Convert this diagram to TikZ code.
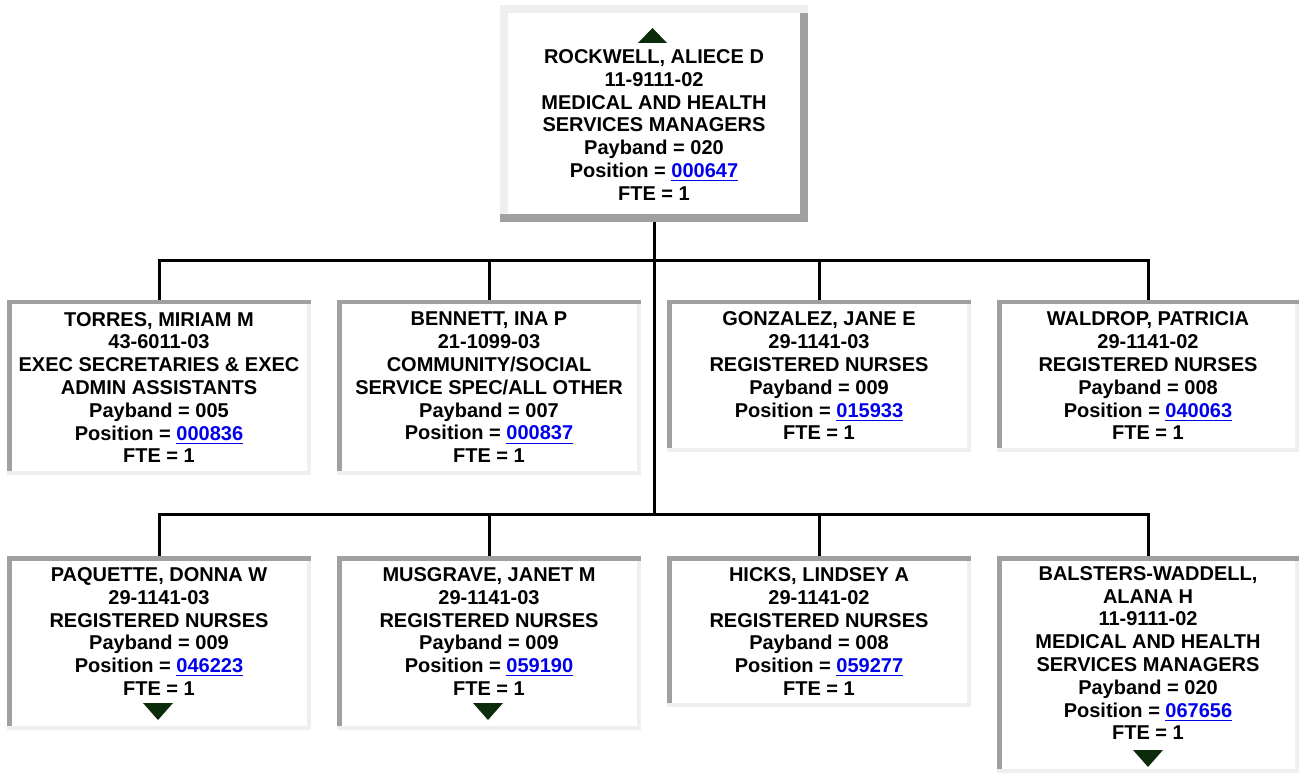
\documentclass[tikz,border=0pt]{standalone}
\usepackage{fontspec}
\setmainfont{Liberation Sans}
\usetikzlibrary{calc}

\definecolor{edgelight}{HTML}{EFEFEF}
\definecolor{edgedark}{HTML}{A0A0A0}
\definecolor{arrowgreen}{HTML}{0B2B0B}
\definecolor{linkblue}{HTML}{0000EE}
\newcommand{\posnr}[1]{\textcolor{linkblue}{\underline{#1}}}

\tikzset{
	emp/.style={fill=white, inner sep=0pt, align=center, font=\fontsize{10}{11.4}\selectfont\bfseries},
	raised/.style={emp, minimum width=154pt, path picture={
		\fill[edgelight] (path picture bounding box.north west) rectangle ([yshift=-4pt]path picture bounding box.north east);
		\fill[edgelight] (path picture bounding box.north west) rectangle ([xshift=4pt]path picture bounding box.south west);
		\fill[edgedark] ([yshift=4pt]path picture bounding box.south west) rectangle (path picture bounding box.south east);
		\fill[edgedark] ([xshift=-4pt,yshift=-4pt]path picture bounding box.north east) rectangle (path picture bounding box.south east);
	}},
	sunken/.style={emp, minimum width=152pt, path picture={
		\fill[edgedark] (path picture bounding box.north west) rectangle ([yshift=-2.25pt]path picture bounding box.north east);
		\fill[edgedark] (path picture bounding box.north west) rectangle ([xshift=2.25pt]path picture bounding box.south west);
		\fill[edgelight] ([yshift=2.25pt]path picture bounding box.south west) rectangle (path picture bounding box.south east);
		\fill[edgelight] ([xshift=-2.25pt,yshift=-2.25pt]path picture bounding box.north east) rectangle ([yshift=2.25pt]path picture bounding box.south east);
	}},
	wire/.style={line width=1.5pt},
	tri/.style={fill=arrowgreen},
}

\begin{document}
\begin{tikzpicture}[x=0.5pt, y=-0.5pt]
	\useasboundingbox (0,0) rectangle (1299,774);

	\node[raised, minimum height=108.5pt] (rockwell) at (654,113.5){\rule{0pt}{7pt}\\ROCKWELL, ALIECE D\\11-9111-02\\MEDICAL AND HEALTH\\SERVICES MANAGERS\\Payband = 020\\Position = \posnr{000647}\\FTE = 1};

	% first row
	\node[sunken, minimum height=87.5pt] (torres) at (159,387.5){TORRES, MIRIAM M\\43-6011-03\\EXEC SECRETARIES \& EXEC\\ADMIN ASSISTANTS\\Payband = 005\\Position = \posnr{000836}\\FTE = 1};
	\node[sunken, minimum height=87.5pt] (bennett) at (489,387.5){BENNETT, INA P\\21-1099-03\\COMMUNITY/SOCIAL\\SERVICE SPEC/ALL OTHER\\Payband = 007\\Position = \posnr{000837}\\FTE = 1};
	\node[sunken, minimum height=76pt] (gonzalez) at (819,376){GONZALEZ, JANE E\\29-1141-03\\REGISTERED NURSES\\Payband = 009\\Position = \posnr{015933}\\FTE = 1};
	\node[sunken, minimum height=76pt, minimum width=151pt] (waldrop) at (1148,376){WALDROP, PATRICIA\\29-1141-02\\REGISTERED NURSES\\Payband = 008\\Position = \posnr{040063}\\FTE = 1};

	% second row
	\node[sunken, minimum height=87pt] (paquette) at (159,643){PAQUETTE, DONNA W\\29-1141-03\\REGISTERED NURSES\\Payband = 009\\Position = \posnr{046223}\\FTE = 1\\\rule{0pt}{0pt}};
	\node[sunken, minimum height=87pt] (musgrave) at (489,643){MUSGRAVE, JANET M\\29-1141-03\\REGISTERED NURSES\\Payband = 009\\Position = \posnr{059190}\\FTE = 1\\\rule{0pt}{0pt}};
	\node[sunken, minimum height=75.5pt] (hicks) at (819,631.5){HICKS, LINDSEY A\\29-1141-02\\REGISTERED NURSES\\Payband = 008\\Position = \posnr{059277}\\FTE = 1};
	\node[sunken, minimum height=108.5pt, minimum width=151pt] (balsters) at (1148,664.5){BALSTERS-WADDELL,\\ALANA H\\11-9111-02\\MEDICAL AND HEALTH\\SERVICES MANAGERS\\Payband = 020\\Position = \posnr{067656}\\FTE = 1\\\rule{0pt}{0pt}};

	\coordinate (bus1) at (654,261);
	\coordinate (bus2) at (654,514);
	\draw[wire] (rockwell.south) -- (bus2);
	\draw[wire] (torres.north) |- (bus1) -| (waldrop.north);
	\foreach \n in {bennett,gonzalez}
		\draw[wire] (\n.north) -- (\n.north |- bus1);
	\draw[wire] (paquette.north) |- (bus2) -| (balsters.north);
	\foreach \n in {musgrave,hicks}
		\draw[wire] (\n.north) -- (\n.north |- bus2);

	% expand arrows
	\fill[tri] (638,43) -- (667,43) -- (652.5,28) -- cycle;
	\fill[tri] (143,703) -- (173,703) -- (158,720) -- cycle;
	\fill[tri] (473,703) -- (503,703) -- (488,720) -- cycle;
	\fill[tri] (1133,750) -- (1163,750) -- (1148,767) -- cycle;
\end{tikzpicture}
\end{document}
